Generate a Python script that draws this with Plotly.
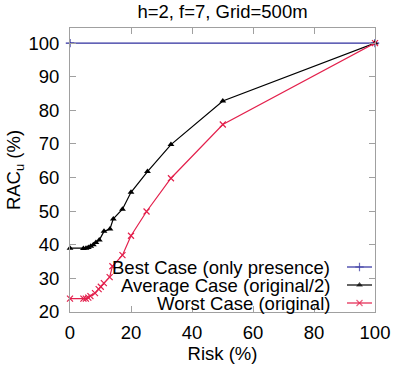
import plotly.graph_objects as go

# ---- data ----
best_x = [0, 100]
best_y = [100, 100]

avg_x = [0, 4.4, 5.25, 6.0, 6.8, 7.65, 8.5, 9.6, 11.15, 13.1, 14.2, 17.2, 20.0, 25.4, 33.1, 50.1, 100]
avg_y = [39, 38.9, 39.0, 39.2, 39.6, 40.0, 40.7, 41.4, 44.0, 44.7, 47.7, 50.6, 55.6, 61.8, 69.8, 82.8, 100]

worst_x = [0, 4.4, 5.2, 6.0, 6.7, 8.2, 9.4, 10.1, 11.1, 13.0, 13.9, 17.2, 20.0, 25.1, 33.1, 50.1, 100]
worst_y = [24.0, 24.0, 24.0, 24.3, 24.7, 25.6, 26.8, 27.5, 28.6, 30.4, 33.6, 36.9, 42.7, 49.9, 59.8, 75.8, 100]

names = ["Best Case (only presence)", "Average Case (original/2)", "Worst Case (original)"]
colors = ["#2e2e9e", "#000000", "#e3204c"]
symbols = ["cross-thin", "triangle-up", "x-thin"]

title = "h=2, f=7, Grid=500m"
x_title = "Risk (%)"
y_title = "RAC<sub>u</sub> (%)"

FONT = "Liberation Sans, Arial, sans-serif"
FS = 18.5
GRAY = "#a0a0a0"


def marker_for(s, c):
    if s == "triangle-up":
        return dict(symbol=s, size=6, color=c, line=dict(width=0))
    return dict(symbol=s, size=6, color=c, line=dict(color=c, width=1.2))


fig = go.Figure()
series = [(best_x, best_y), (avg_x, avg_y), (worst_x, worst_y)]
for (xs, ys), n, c, s in zip(series, names, colors, symbols):
    fig.add_trace(go.Scatter(x=xs, y=ys, mode="lines+markers", name=n,
                             line=dict(color=c, width=1.2), marker=marker_for(s, c),
                             showlegend=False, cliponaxis=False))

# custom legend (text left of sample), on an overlay axis in pixel units
L, R, T, B = 70, 375, 28, 312
rows = [267, 285, 303]
for n, c, s, ry in zip(names, colors, symbols, rows):
    mk = marker_for(s, c)
    mk["size"] = [0, 6, 0]
    fig.add_trace(go.Scatter(x=[347, 359.5, 372], y=[ry, ry, ry], mode="lines+markers",
                             marker=mk, line=dict(color=c, width=1.2),
                             xaxis="x2", yaxis="y2",
                             showlegend=False, hoverinfo="skip", cliponaxis=False))
    fig.add_annotation(text=n, x=332, y=ry, xref="x2", yref="y2", xanchor="right",
                       yanchor="middle", showarrow=False,
                       font=dict(family=FONT, size=FS, color="#000000"))

axis_common = dict(showgrid=False, zeroline=False, showline=True, linecolor=GRAY,
                   linewidth=1, mirror="ticks", ticks="inside", ticklen=6,
                   tickcolor=GRAY, tickwidth=1, automargin=False,
                   tickfont=dict(family=FONT, size=FS, color="#000000"))

fig.update_layout(
    width=393, height=368,
    margin=dict(l=L, r=393 - R, t=T, b=368 - B, autoexpand=False),
    paper_bgcolor="white", plot_bgcolor="white",
    title=dict(text=title, x=(L + R) / 2 / 393, xanchor="center", y=1 - 12 / 368,
               yanchor="middle", font=dict(family=FONT, size=FS, color="#000000"),
               automargin=False),
    xaxis=dict(axis_common, range=[0, 100], tickvals=[0, 20, 40, 60, 80, 100],
               title=dict(text=x_title, standoff=4,
                          font=dict(family=FONT, size=FS, color="#000000")),
               ticklabelstandoff=4),
    yaxis=dict(axis_common, range=[20, 104.5], tickvals=list(range(20, 101, 10)),
               title=dict(text=y_title, standoff=2,
                          font=dict(family=FONT, size=FS, color="#000000")),
               ticklabelstandoff=6),
    xaxis2=dict(range=[L, R], overlaying="x", visible=False, fixedrange=True, automargin=False),
    yaxis2=dict(range=[B, T], overlaying="y", visible=False, fixedrange=True, automargin=False),
    showlegend=False,
)

fig.write_html("out.html")
